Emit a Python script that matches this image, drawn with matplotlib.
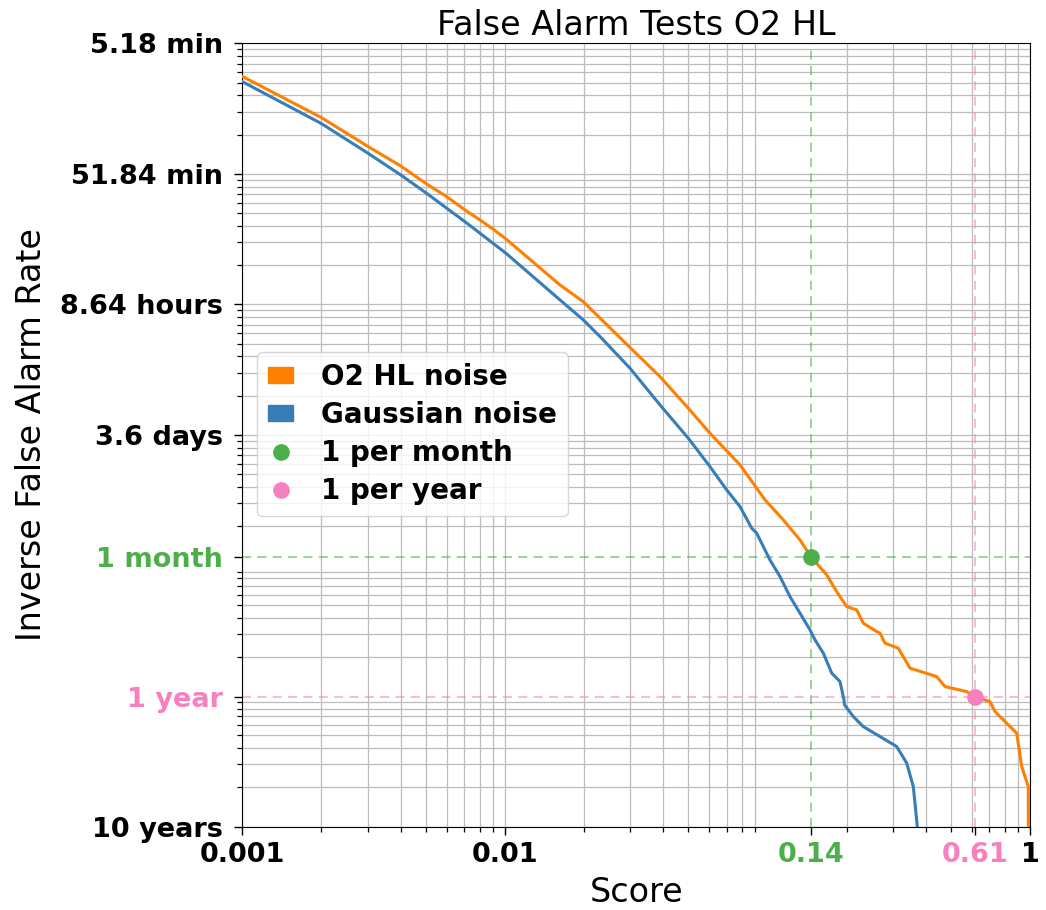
import matplotlib
matplotlib.use('Agg')
import matplotlib.pyplot as plt
import matplotlib.ticker as mticker
from matplotlib.patches import Patch
from matplotlib.lines import Line2D

# ---- data (score vs. false alarm rate, normalised units; 1 = one per 5.18 min) ----
o2_score = [0.001, 0.00199, 0.00301, 0.00401, 0.00503, 0.0060, 0.00704, 0.00803, 0.00903,
            0.01009, 0.0162, 0.01988, 0.02784, 0.03895, 0.04993, 0.06039, 0.07857,
            0.09097, 0.09784, 0.1149, 0.1330, 0.1465, 0.1681, 0.1835, 0.2003, 0.2187, 0.2317,
            0.2606, 0.2683, 0.2803, 0.3150, 0.3492, 0.4411, 0.4747, 0.5741, 0.6175, 0.7041,
            0.7357, 0.8899, 0.9299, 0.9852, 0.987]
o2_far = [0.557, 0.2713, 0.1620, 0.1149, 0.0837, 0.0669, 0.05293, 0.04436, 0.03765,
          0.03173, 0.0141, 0.0105, 0.00540, 0.0028, 0.001604, 0.001032, 5.904e-4,
          3.914e-4, 3.184e-4, 2.239e-4, 1.573e-4, 1.165e-4, 8.489e-5, 6.323e-5, 4.854e-5,
          4.579e-5, 3.622e-5, 3.124e-5, 3.037e-5, 2.545e-5, 2.331e-5, 1.638e-5, 1.413e-5,
          1.184e-5, 1.084e-5, 9.86e-6, 9.094e-6, 7.622e-6, 5.207e-6, 2.891e-6, 2.031e-6, 5e-7]

gauss_score = [0.001, 0.00199, 0.00301, 0.00401, 0.00503, 0.0060, 0.00704, 0.01009, 0.0162,
               0.01988, 0.02335, 0.02994, 0.03895, 0.04993, 0.06039, 0.06992, 0.07857,
               0.08707, 0.09097, 0.1022, 0.1116, 0.1218, 0.1330, 0.1452, 0.1517, 0.1632,
               0.1757, 0.1889, 0.1956, 0.1965, 0.2123, 0.2316, 0.2683, 0.3106, 0.3391,
               0.3593, 0.3722, 0.374]
gauss_far = [0.508, 0.244, 0.1438, 0.09808, 0.07102, 0.05452, 0.04305, 0.02466, 0.01083,
             0.00761, 0.00551, 0.003248, 0.0017, 9.45e-4, 5.728e-4, 3.798e-4, 2.83e-4,
             1.934e-4, 1.771e-4, 1.105e-4, 8.234e-5, 5.789e-5, 4.32e-5, 3.219e-5, 2.698e-5,
             2.134e-5, 1.5e-5, 1.293e-5, 9.37e-6, 8.58e-6, 6.98e-6, 5.85e-6, 4.905e-6,
             4.112e-6, 3.069e-6, 2.031e-6, 1e-6, 5e-7]

month_score = 0.1465
year_score = 0.6175
month_far = 1.165e-4
year_far = 9.86e-6

ytick_vals = [1.0, 0.1, 0.01, 0.001, month_far, year_far, 1e-6]
ytick_labels = ['5.18 min', '51.84 min', '8.64 hours', '3.6 days', '1 month', '1 year', '10 years']
xtick_vals = [0.001, 0.01, month_score, year_score, 1.0]
xtick_labels = ['0.001', '0.01', '0.14', '0.61', '1']

C_ORANGE = '#ff7f00'
C_BLUE = '#377eb8'
C_GREEN = '#4daf4a'
C_PINK = '#f781bf'

fig = plt.figure(figsize=(10.46, 9.10), dpi=100)
ax = fig.add_axes([0.2318, 0.0915, 0.7529, 0.8609])

ax.set_xscale('log')
ax.set_yscale('log')
ax.set_xlim(0.001, 1.0)
ax.set_ylim(1e-6, 1.0)

ax.plot(gauss_score, gauss_far, color=C_BLUE, lw=2.2, zorder=3)
ax.plot(o2_score, o2_far, color=C_ORANGE, lw=2.2, zorder=4)

ax.axhline(month_far, color=C_GREEN, ls=(0, (5, 3.5)), lw=1.3, alpha=0.6, zorder=2)
ax.axvline(month_score, color=C_GREEN, ls=(0, (5, 3.5)), lw=1.3, alpha=0.6, zorder=2)
ax.axhline(year_far, color=C_PINK, ls=(0, (5, 3.5)), lw=1.3, alpha=0.6, zorder=2)
ax.axvline(year_score, color=C_PINK, ls=(0, (5, 3.5)), lw=1.3, alpha=0.6, zorder=2)
ax.plot([month_score], [month_far], 'o', color=C_GREEN, ms=11, zorder=5)
ax.plot([year_score], [year_far], 'o', color=C_PINK, ms=11, zorder=5)

ax.set_xticks(xtick_vals)
ax.set_xticklabels(xtick_labels)
ax.set_yticks(ytick_vals)
ax.set_yticklabels(ytick_labels)
ax.xaxis.set_minor_locator(mticker.LogLocator(base=10, subs=range(2, 10), numticks=20))
ax.yaxis.set_minor_locator(mticker.LogLocator(base=10, subs=range(2, 10), numticks=20))
ax.xaxis.set_minor_formatter(mticker.NullFormatter())
ax.yaxis.set_minor_formatter(mticker.NullFormatter())

ax.tick_params(which='major', length=6, width=1, labelsize=19.5)
ax.tick_params(axis='y', which='major', pad=8)
ax.tick_params(axis='x', which='major', pad=5)
ax.tick_params(which='minor', length=3.5, width=0.9)
for lab in ax.get_xticklabels() + ax.get_yticklabels():
    lab.set_fontweight('bold')
xl = ax.get_xticklabels()
xl[2].set_color(C_GREEN)
xl[3].set_color(C_PINK)
yl = ax.get_yticklabels()
yl[4].set_color(C_GREEN)
yl[5].set_color(C_PINK)

ax.grid(True, which='both', color='#bcbcbc', lw=0.9)
ax.set_axisbelow(True)
# no solid grid line under the threshold lines
xg = ax.xaxis.get_gridlines()
xg[2].set_visible(False)
xg[3].set_visible(False)
yg = ax.yaxis.get_gridlines()
yg[4].set_visible(False)
yg[5].set_visible(False)

ax.set_title('False Alarm Tests O2 HL', fontsize=24)
ax.set_xlabel('Score', fontsize=24, labelpad=6)
ax.set_ylabel('Inverse False Alarm Rate', fontsize=24, labelpad=9)

handles = [Patch(color=C_ORANGE, label='O2 HL noise'),
           Patch(color=C_BLUE, label='Gaussian noise'),
           Line2D([], [], marker='o', ls='', color=C_GREEN, ms=11, label='1 per month'),
           Line2D([], [], marker='o', ls='', color=C_PINK, ms=11, label='1 per year')]
ax.legend(handles=handles, loc='upper left', bbox_to_anchor=(0.0184, 0.606),
          borderaxespad=0, handlelength=0.9, handleheight=0.5, handletextpad=1.0,
          labelspacing=0.36, prop={'size': 20, 'weight': 'bold'})

fig.savefig('out.png', dpi=100)
